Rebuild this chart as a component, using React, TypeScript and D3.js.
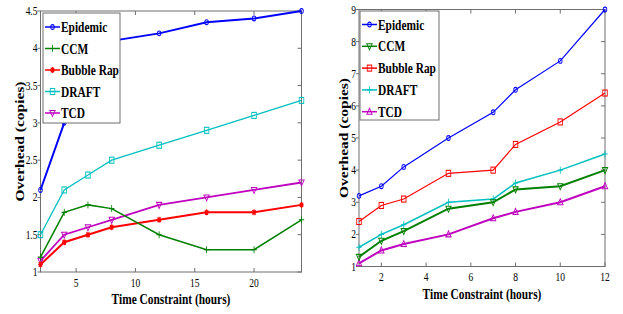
import React from "react";
import * as d3 from "d3";

// ---------- Data ----------
const leftX = [2, 4, 6, 8, 12, 16, 20, 24];
const leftEpidemic = [2.1, 3.0, 3.8, 4.1, 4.2, 4.35, 4.4, 4.5];
const leftCCM = [1.2, 1.8, 1.9, 1.85, 1.5, 1.3, 1.3, 1.7];
const leftBubble = [1.1, 1.4, 1.5, 1.6, 1.7, 1.8, 1.8, 1.9];
const leftDRAFT = [1.5, 2.1, 2.3, 2.5, 2.7, 2.9, 3.1, 3.3];
const leftTCD = [1.15, 1.5, 1.6, 1.7, 1.9, 2.0, 2.1, 2.2];
const leftXTicks = [5, 10, 15, 20];
const leftYTicks = [1, 1.5, 2, 2.5, 3, 3.5, 4, 4.5];

const rightX = [1, 2, 3, 5, 7, 8, 10, 12];
const rightEpidemic = [3.2, 3.5, 4.1, 5.0, 5.8, 6.5, 7.4, 9.0];
const rightCCM = [1.3, 1.8, 2.1, 2.8, 3.0, 3.4, 3.5, 4.0];
const rightBubble = [2.4, 2.9, 3.1, 3.9, 4.0, 4.8, 5.5, 6.4];
const rightDRAFT = [1.6, 2.0, 2.3, 3.0, 3.1, 3.6, 4.0, 4.5];
const rightTCD = [1.1, 1.5, 1.7, 2.0, 2.5, 2.7, 3.0, 3.5];
const rightXTicks = [2, 4, 6, 8, 10, 12];
const rightYTicks = [1, 2, 3, 4, 5, 6, 7, 8, 9];

const seriesNames = ["Epidemic", "CCM", "Bubble Rap", "DRAFT", "TCD"];
const colors = ["#0000ff", "#008000", "#ff0000", "#00bfbf", "#bf00bf"];

type Shape = "circle" | "plus" | "star" | "square" | "tdown" | "tup";

const SX = 0.76; // horizontal squeeze of the original figure
const AXIS = "#6e6e6e";
const SERIF = "'Liberation Serif', 'Times New Roman', serif";

function Marker({ shape, color, x, y }: { shape: Shape; color: string; x: number; y: number }) {
  let el: React.ReactNode = null;
  const sw = 1.1;
  if (shape === "circle") el = <circle r={2.4} fill="none" stroke={color} strokeWidth={sw} />;
  else if (shape === "square") el = <rect x={-3} y={-3} width={6} height={6} fill="none" stroke={color} strokeWidth={sw} />;
  else if (shape === "plus") el = <path d="M-3.5,0H3.5M0,-3.5V3.5" stroke={color} strokeWidth={sw} />;
  else if (shape === "star")
    el = <path d="M-3,0H3M0,-3V3M-2.2,-2.2L2.2,2.2M-2.2,2.2L2.2,-2.2" stroke={color} strokeWidth={sw * 1.3} />;
  else if (shape === "tdown") el = <path d="M-3.5,-2.5H3.5L0,3.5Z" fill="none" stroke={color} strokeWidth={sw} />;
  else if (shape === "tup") el = <path d="M-3.5,2.5H3.5L0,-3.5Z" fill="none" stroke={color} strokeWidth={sw} />;
  return <g transform={`translate(${x},${y}) scale(${SX},1)`}>{el}</g>;
}

function SText(props: {
  x: number;
  y: number;
  size: number;
  bold?: boolean;
  anchor?: "start" | "middle" | "end";
  rotate?: boolean;
  children: React.ReactNode;
}) {
  const { x, y, size, bold, anchor = "start", rotate, children } = props;
  return (
    <text
      transform={`translate(${x},${y}) scale(${SX},1)${rotate ? " rotate(-90)" : ""}`}
      fontFamily={SERIF}
      fontSize={size}
      fontWeight={bold ? "bold" : "normal"}
      textAnchor={anchor}
      dy={rotate ? "0.32em" : undefined}
      fill="#000"
    >
      {children}
    </text>
  );
}

type PanelProps = {
  xs: number[];
  series: number[][];
  shapes: Shape[];
  widths: number[];
  xDomain: [number, number];
  yDomain: [number, number];
  xRange: [number, number];
  yRange: [number, number];
  xTicks: number[];
  yTicks: number[];
  yTitleX: number;
  xTitleY: number;
  xTickY: number;
  legend: { x: number; y: number; w: number; h: number; y0: number; dy: number };
};

function Panel(p: PanelProps) {
  const x = d3.scaleLinear().domain(p.xDomain).range(p.xRange);
  const y = d3.scaleLinear().domain(p.yDomain).range(p.yRange);
  const line = d3
    .line<[number, number]>()
    .x((d) => x(d[0]))
    .y((d) => y(d[1]));
  const [x0, x1] = p.xRange;
  const [yb, yt] = p.yRange;
  const tl = 4;
  const order = [3, 4, 2, 1, 0];
  return (
    <g>
      {/* box */}
      <rect x={x0} y={yt} width={x1 - x0} height={yb - yt} fill="white" stroke={AXIS} strokeWidth={1} />
      {p.xTicks.map((t) => (
        <g key={"xt" + t}>
          <line x1={x(t)} x2={x(t)} y1={yb} y2={yb - tl} stroke={AXIS} />
          <line x1={x(t)} x2={x(t)} y1={yt} y2={yt + tl} stroke={AXIS} />
          <SText x={x(t)} y={p.xTickY} size={12.5} anchor="middle">
            {String(t)}
          </SText>
        </g>
      ))}
      {p.yTicks.map((t) => (
        <g key={"yt" + t}>
          <line x1={x0 - 3} x2={x0} y1={y(t)} y2={y(t)} stroke={AXIS} />
          <line x1={x1} x2={x1 - tl} y1={y(t)} y2={y(t)} stroke={AXIS} />
          <text
            transform={`translate(${x0 - 3},${y(t) + 4}) scale(${SX},1)`}
            fontFamily={SERIF}
            fontSize={12.5}
            textAnchor="end"
          >
            {String(t)}
          </text>
        </g>
      ))}
      {/* series */}
      {order.map((i) => (
        <g key={"s" + i}>
          <path
            d={line(p.xs.map((xv, j) => [xv, p.series[i][j]] as [number, number])) || ""}
            fill="none"
            stroke={colors[i]}
            strokeWidth={p.widths[i]}
          />
          {p.xs.map((xv, j) => (
            <Marker key={j} shape={p.shapes[i]} color={colors[i]} x={x(xv)} y={y(p.series[i][j])} />
          ))}
        </g>
      ))}
      {/* legend */}
      <rect x={p.legend.x} y={p.legend.y} width={p.legend.w} height={p.legend.h} fill="white" stroke={AXIS} />
      {seriesNames.map((n, i) => {
        const ly = p.legend.y0 + i * p.legend.dy;
        const lx = p.legend.x + 2;
        return (
          <g key={"lg" + i}>
            <line x1={lx} x2={lx + 15} y1={ly} y2={ly} stroke={colors[i]} strokeWidth={1.5} />
            <Marker shape={p.shapes[i]} color={colors[i]} x={lx + 7.5} y={ly} />
            <SText x={lx + 16} y={ly + 5} size={15} bold>
              {n}
            </SText>
          </g>
        );
      })}
      {/* titles */}
      <SText x={(x0 + x1) / 2} y={p.xTitleY} size={15} bold anchor="middle">
        Time Constraint (hours)
      </SText>
      <SText x={p.yTitleX} y={(yt + yb) / 2} size={15.5} bold anchor="middle" rotate>
        Overhead (copies)
      </SText>
    </g>
  );
}

export default function App() {
  return (
    <svg width={623} height={314} style={{ position: "absolute", left: 0, top: 0, background: "white" }}>
      <rect width={623} height={314} fill="white" />
      <Panel
        xs={leftX}
        series={[leftEpidemic, leftCCM, leftBubble, leftDRAFT, leftTCD]}
        shapes={["circle", "plus", "star", "square", "tdown"]}
        widths={[2, 1.5, 2, 1.3, 1.8]}
        xDomain={[2, 24]}
        yDomain={[1, 4.5]}
        xRange={[40.5, 301.5]}
        yRange={[272, 11]}
        xTicks={leftXTicks}
        yTicks={leftYTicks}
        yTitleX={20}
        xTitleY={304}
        xTickY={287}
        legend={{ x: 43, y: 13, w: 77, h: 110, y0: 27, dy: 21.5 }}
      />
      <Panel
        xs={rightX}
        series={[rightEpidemic, rightCCM, rightBubble, rightDRAFT, rightTCD]}
        shapes={["circle", "tdown", "square", "plus", "tup"]}
        widths={[1.2, 2, 1.2, 1.5, 2]}
        xDomain={[1, 12]}
        yDomain={[1, 9]}
        xRange={[359, 605]}
        yRange={[266.5, 9.5]}
        xTicks={rightXTicks}
        yTicks={rightYTicks}
        yTitleX={344}
        xTitleY={299}
        xTickY={281}
        legend={{ x: 360, y: 11, w: 79, h: 109, y0: 24.5, dy: 21.8 }}
      />
    </svg>
  );
}
